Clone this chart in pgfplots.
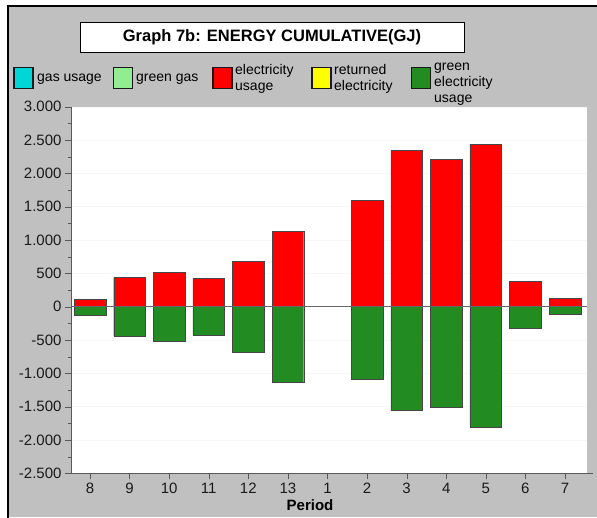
\documentclass[border=0pt]{standalone}
\usepackage{pgfplots}
\pgfplotsset{compat=1.18}
\usepackage{fontspec}
\setmainfont{Liberation Sans}

\definecolor{bggray}{RGB}{192,192,192}
\definecolor{gasc}{RGB}{0,214,214}
\definecolor{greengasc}{RGB}{144,238,144}
\definecolor{elecc}{RGB}{255,0,0}
\definecolor{retc}{RGB}{255,255,0}
\definecolor{greenelc}{RGB}{34,139,34}
\definecolor{edgec}{RGB}{70,70,70}

\begin{document}
\begin{tikzpicture}[x=1pt,y=1pt]
\useasboundingbox (0,0) rectangle (597,517);
% frame
\fill[bggray] (8,0) rectangle (597,511);
\draw[line width=2.5pt,black] (8,-2) -- (8,511) -- (599,511);

% title box
\node[draw=black,line width=0.8pt,fill=white,minimum width=384pt,minimum height=30pt,inner sep=0pt,
  font=\bfseries\fontsize{16.5}{19}\selectfont] at (272,480) {Graph 7b: ENERGY CUMULATIVE(GJ)};

% legend
\tikzset{legsq/.style={draw=black!90,line width=1.8pt,minimum width=19pt,minimum height=21pt,inner sep=0pt},
  legtx/.style={anchor=west,inner sep=0pt,align=left,font=\fontsize{14}{16}\selectfont}}
\node[legsq,fill=gasc] at (23.5,439) {};
\node[legtx] at (37,438) {gas usage};
\node[legsq,fill=greengasc] at (123,439) {};
\node[legtx] at (136,438) {green gas};
\node[legsq,fill=elecc] at (222.5,439) {};
\node[legtx] at (235,438) {electricity\\usage};
\node[legsq,fill=retc] at (321.5,439) {};
\node[legtx] at (334,438) {returned\\electricity};
\node[legsq,fill=greenelc] at (421,439) {};
\node[legtx] at (434,433) {green\\electricity\\usage};

\begin{axis}[
    at={(71pt,43.7pt)}, anchor=south west,
    scale only axis,
    width=515.7pt, height=366.6pt,
    xmin=-0.48, xmax=12.55,
    ymin=-2500, ymax=3000,
    axis lines*=left,
    axis line style={gray!70!black},
    axis background/.style={fill=white},
    clip=false,
    xtick={0,...,12},
    xticklabels={8,9,10,11,12,13,1,2,3,4,5,6,7},
    ytick={-2500,-2000,...,3000},
    minor y tick num=1,
    tick align=outside,
    major tick length=6pt,
    minor tick length=3pt,
    tick style={gray!70!black},
    ymajorgrids=true,
    major grid style={gray!6},
    /pgf/number format/.cd, 1000 sep={.}, fixed, assume math mode=true,
    /pgfplots/.cd,
    ticklabel style={font=\fontsize{15}{18}\selectfont, text=black!90},
    ]
\addplot[ybar, bar width=0.8, bar shift=0, fill=elecc, draw=edgec] coordinates {
(0,115) (1,435) (2,510) (3,430) (4,685) (5,1135) (6,0) (7,1590) (8,2340) (9,2215) (10,2435) (11,385) (12,130)};
\addplot[ybar, bar width=0.8, bar shift=0, fill=greenelc, draw=edgec] coordinates {
(0,-125) (1,-440) (2,-520) (3,-435) (4,-685) (5,-1135) (6,0) (7,-1085) (8,-1550) (9,-1510) (10,-1805) (11,-320) (12,-110)};
\draw[gray!80!black] ({rel axis cs:0,0}|-{axis cs:0,0}) -- ({rel axis cs:1,0}|-{axis cs:0,0});
\draw[gray!70!black] (rel axis cs:1,0) -- ([xshift=6pt]rel axis cs:1,0);
\end{axis}
\node[font=\bfseries\fontsize{15}{18}\selectfont] at (310,12) {Period};
\end{tikzpicture}
\end{document}
